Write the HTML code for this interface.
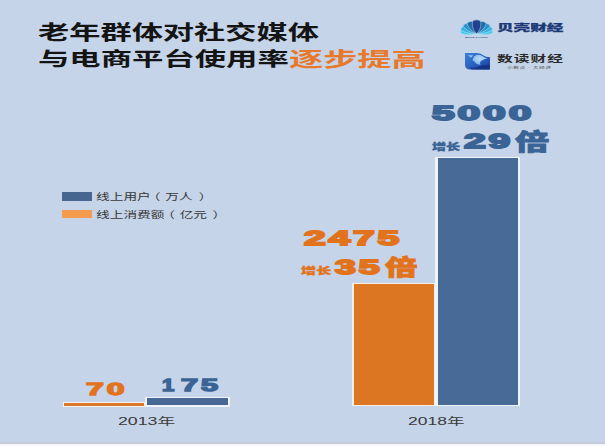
<!DOCTYPE html>
<html><head><meta charset="utf-8">
<style>
html,body{margin:0;padding:0;}
body{width:605px;height:446px;overflow:hidden;position:relative;background:#c5d4e8;}
.a{position:absolute;white-space:nowrap;transform-origin:0 0;line-height:1;}
.cjk{font-family:"Liberation Sans","Noto Sans CJK SC",sans-serif;}
.t{font-weight:700;color:#141414;}
.num{font-family:"Liberation Sans",sans-serif;font-weight:bold;letter-spacing:1.5px;}
.o{color:#e2731c;-webkit-text-stroke:1.8px #e2731c;}
.b{color:#3a6396;-webkit-text-stroke:1.8px #3a6396;}
.bar{position:absolute;box-sizing:border-box;}
</style></head><body>
<div class="a cjk t" id="t1" style="left:38.0px;top:23.3px;font-size:20.2px;transform:scaleX(1.546)">老年群体对社交媒体</div>
<div class="a cjk t" id="t2" style="left:37.76px;top:50.49px;font-size:19.24px;transform:scaleX(1.63)">与电商平台使用率</div>
<div class="a cjk t" id="t3" style="left:288.76px;top:49.55px;font-size:20.42px;color:#e8782a;transform:scaleX(1.674)">逐步提高</div>

<svg class="a" style="left:456px;top:14px" width="42" height="26" viewBox="456 14 42 26">
<g transform="translate(476.6 33.8) scale(1.58 1)">
<path d="M0 0 C2.90 -3.27 2.90 -7.63 2.44 -9.81 Q0 -11.40 -2.44 -9.81 C-2.90 -7.63 -2.90 -3.27 0 0Z" fill="#48c9ee" stroke="#d0e6f4" stroke-width="0.35" transform="rotate(74)"/>
<path d="M0 0 C2.90 -3.27 2.90 -7.63 2.44 -9.81 Q0 -11.40 -2.44 -9.81 C-2.90 -7.63 -2.90 -3.27 0 0Z" fill="#48c9ee" stroke="#d0e6f4" stroke-width="0.35" transform="rotate(-74)"/>
<path d="M0 0 C3.00 -3.54 3.00 -8.26 2.52 -10.62 Q0 -12.30 -2.52 -10.62 C-3.00 -8.26 -3.00 -3.54 0 0Z" fill="#36b2e2" stroke="#d0e6f4" stroke-width="0.35" transform="rotate(55)"/>
<path d="M0 0 C3.00 -3.54 3.00 -8.26 2.52 -10.62 Q0 -12.30 -2.52 -10.62 C-3.00 -8.26 -3.00 -3.54 0 0Z" fill="#36b2e2" stroke="#d0e6f4" stroke-width="0.35" transform="rotate(-55)"/>
<path d="M0 0 C3.00 -3.81 3.00 -8.89 2.52 -11.43 Q0 -13.20 -2.52 -11.43 C-3.00 -8.89 -3.00 -3.81 0 0Z" fill="#2993cc" stroke="#d0e6f4" stroke-width="0.35" transform="rotate(36)"/>
<path d="M0 0 C3.00 -3.81 3.00 -8.89 2.52 -11.43 Q0 -13.20 -2.52 -11.43 C-3.00 -8.89 -3.00 -3.81 0 0Z" fill="#2993cc" stroke="#d0e6f4" stroke-width="0.35" transform="rotate(-36)"/>
<path d="M0 0 C3.00 -4.05 3.00 -9.45 2.52 -12.15 Q0 -14.00 -2.52 -12.15 C-3.00 -9.45 -3.00 -4.05 0 0Z" fill="#1f6eaa" stroke="#d0e6f4" stroke-width="0.35" transform="rotate(18)"/>
<path d="M0 0 C3.00 -4.05 3.00 -9.45 2.52 -12.15 Q0 -14.00 -2.52 -12.15 C-3.00 -9.45 -3.00 -4.05 0 0Z" fill="#1f6eaa" stroke="#d0e6f4" stroke-width="0.35" transform="rotate(-18)"/>
<path d="M0 0 C2.90 -4.32 2.90 -10.08 2.44 -12.96 Q0 -14.90 -2.44 -12.96 C-2.90 -10.08 -2.90 -4.32 0 0Z" fill="#22408e" stroke="#d0e6f4" stroke-width="0.35" transform="rotate(0)"/>
</g>
<text x="465" y="37.6" font-family="Liberation Sans" font-size="1.8" font-weight="bold" fill="#34508e" textLength="23" lengthAdjust="spacingAndGlyphs">BEIKE CAIJING</text>
</svg>
<svg class="a" style="left:462px;top:50px" width="32" height="22" viewBox="462 50 32 22">
<defs><linearGradient id="g2" x1="0" y1="0" x2="1" y2="1"><stop offset="0" stop-color="#3a80da"/><stop offset="0.5" stop-color="#2a62c2"/><stop offset="1" stop-color="#1a3a94"/></linearGradient>
<radialGradient id="g3" cx="0.5" cy="0.4" r="0.6"><stop offset="0" stop-color="#c4e2fa"/><stop offset="1" stop-color="#7fb8ec"/></radialGradient></defs>
<path d="M465 53 H477 Q481 53 483.5 55.5 Q486 57.3 490 57.3 V69.5 H470 Q465 69.5 465 64.5 Z" fill="url(#g2)"/>
<path d="M467.8 55.2 L471 57.8 L473.2 55.2 Z" fill="#8fc4f2"/>
<path d="M474 56.5 Q477 53.6 481.5 55.6 Q484 57.6 487.5 58.3 Q483.5 59.6 481 61 Q479 62.6 480.5 64.6 Q476.8 65.2 475.2 62.6 Q474.6 61 472.5 60.6 Q473 58.5 474 56.5Z" fill="url(#g3)" opacity="0.95"/>
<path d="M470 67.2 Q475 68.6 479.5 66.3 Q483 64.5 489.5 65.2 V69.5 H472 Q470.5 69 470 67.2Z" fill="#142f80" opacity="0.85"/>
</svg>
<div class="a cjk" id="lg1" style="left:497.0px;top:24.4px;font-size:8.81px;font-weight:900;color:#1d3877;-webkit-text-stroke:0.25px #1d3877;transform:scaleX(1.887)">贝壳财经</div>
<div class="a cjk" id="lg2" style="left:496.96px;top:54.8px;font-size:9.2px;font-weight:700;color:#2a2a2a;letter-spacing:0.6px;transform:scaleX(1.708)">数读财经</div>
<div class="a cjk" id="lg3" style="left:507.1px;top:66.72px;font-size:3.2px;color:#555;letter-spacing:0.3px;transform:scaleX(1.809)">小数点 · 大经济</div>

<div class="a" style="left:62px;top:192.2px;width:30.3px;height:8.4px;background:#46668f"></div>
<div class="a" style="left:62px;top:210.1px;width:30.3px;height:8.2px;background:#f49b4d"></div>
<div class="a cjk" id="leg1" style="left:96px;top:193px;font-size:9.2px;color:#383838;transform:scaleX(1.49)">线上用户<span style="position:relative;left:-2.7px">（</span><span style="position:relative;left:0.5px">万人</span><span style="position:relative;left:4.7px">）</span></div>
<div class="a cjk" id="leg2" style="left:96px;top:210.5px;font-size:9.2px;color:#383838;transform:scaleX(1.49)">线上消费额<span style="position:relative;left:-2.1px">（</span><span style="position:relative;left:1px">亿元</span><span style="position:relative;left:4.7px">）</span></div>

<!-- bars -->
<div class="bar" style="left:62.5px;top:402px;width:83px;height:5px;background:#f2f2ef"></div>
<div class="bar" style="left:64px;top:403.2px;width:80.2px;height:2.7px;background:#e0782a"></div>
<div class="bar" style="left:144.5px;top:397px;width:85.3px;height:9.5px;background:#eef4f8"></div>
<div class="bar" style="left:147px;top:398px;width:81px;height:7.4px;background:#476894"></div>
<div class="bar" style="left:352.3px;top:283.2px;width:83px;height:123.2px;background:#f7eee4"></div>
<div class="bar" style="left:354.3px;top:284.2px;width:79.9px;height:121.1px;background:#dc7623"></div>
<div class="bar" style="left:435.4px;top:157px;width:84.2px;height:249.4px;background:#eef4f8"></div>
<div class="bar" style="left:437.6px;top:158px;width:80.8px;height:247.3px;background:#486a97"></div>
<div class="a num o" id="n70" style="left:86.19px;top:382.2px;font-size:16.6px;-webkit-text-stroke:1.3px #e2731c;letter-spacing:1.5px;transform:scaleX(1.927)">70</div>
<div class="a num b" id="n175" style="left:161.8px;top:378.16px;font-size:15.8px;-webkit-text-stroke:1.3px #3a6396;letter-spacing:1.5px;transform:scaleX(1.941)"><span style="display:inline-block;transform:scaleX(0.72);transform-origin:0 0;margin-right:-0.5px">1</span>75</div>
<div class="a num o" id="n2475" style="left:303.71px;top:226.96px;font-size:21.0px;transform:scaleX(1.858)">2475</div>
<div class="a num b" id="n5000" style="left:432.19px;top:102.12px;font-size:21.0px;transform:scaleX(1.939)">5000</div>

<div class="a cjk" id="zz1" style="left:301.33px;top:267.06px;font-size:8.6px;font-weight:900;color:#e2731c;-webkit-text-stroke:0.3px #e2731c;transform:scaleX(1.76)">增长</div>
<div class="a num o" id="n35" style="left:334.55px;top:255.96px;font-size:21.0px;transform:scaleX(1.793)">35</div>
<div class="a cjk" id="b1" style="left:385.36px;top:257.44px;font-size:21.6px;font-weight:900;color:#e2731c;-webkit-text-stroke:0.8px #e2731c;transform:scaleX(1.502)">倍</div>

<div class="a cjk" id="zz2" style="left:431.84px;top:142.96px;font-size:8.6px;font-weight:900;color:#3a6396;-webkit-text-stroke:0.3px #3a6396;transform:scaleX(1.641)">增长</div>
<div class="a num b" id="n29" style="left:464.42px;top:129.7px;font-size:21.0px;transform:scaleX(1.857)">29</div>
<div class="a cjk" id="b2" style="left:514.92px;top:132.04px;font-size:22.4px;font-weight:900;color:#3a6396;-webkit-text-stroke:0.8px #3a6396;transform:scaleX(1.528)">倍</div>

<div class="a cjk" id="y1" style="left:117.6px;top:416.5px;font-size:10.13px;color:#3a3a3a;transform:scaleX(1.751)">2013年</div>
<div class="a cjk" id="y2" style="left:407.8px;top:416.5px;font-size:10.15px;color:#3a3a3a;transform:scaleX(1.727)">2018年</div>
<div class="a" style="left:0;top:441.8px;width:605px;height:2.6px;background:#c6cadb"></div>
<div class="a" style="left:0;top:444.4px;width:605px;height:1.6px;background:#f4f6fa"></div>
</body></html>
